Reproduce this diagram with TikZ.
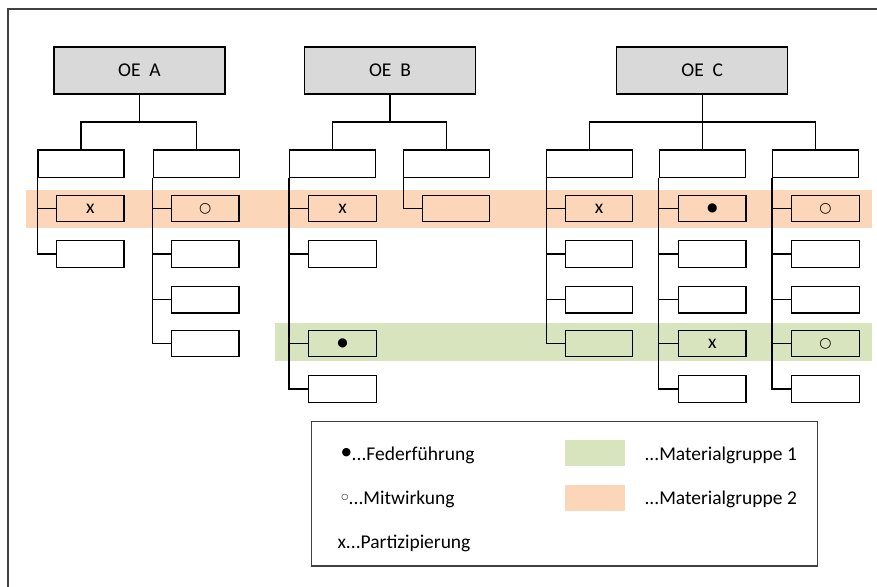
\documentclass[tikz,border=0pt]{standalone}
\usepackage{fontspec}
\setmainfont{Carlito}
\newfontfamily\symfont{DejaVu Sans}
\definecolor{framegray}{HTML}{404040}
\definecolor{headfill}{HTML}{D9D9D9}
\definecolor{bandorange}{HTML}{FBD6B8}
\definecolor{bandgreen}{HTML}{D7E4BD}
\newcommand{\fullbullet}[1]{{\symfont\fontsize{#1}{#1}\selectfont ●}}
\newcommand{\openbullet}[1]{{\symfont\fontsize{#1}{#1}\selectfont ○}}
\newcommand{\boxmark}[1]{\raisebox{-1.5pt}{#1}}
\begin{document}
\begin{tikzpicture}[x=1pt,y=-1pt,
  every node/.style={font=\fontsize{19.5}{23}\selectfont, inner sep=0pt},
  oebox/.style={draw=black, fill=headfill, line width=1.2pt, minimum width=171pt, minimum height=47pt},
  unitbox/.style={draw=black, line width=1.2pt, minimum width=86pt, minimum height=27.7pt},
  subbox/.style={draw=black, line width=1.2pt, minimum width=67.5pt, minimum height=26.5pt},
  wire/.style={draw=black, line width=1.2pt},
  swatch/.style={inner sep=0pt, outer sep=0pt, minimum width=59.7pt, minimum height=25.7pt}
]
\useasboundingbox (0,0) rectangle (877,586);
\clip (0,0) rectangle (877,586);
% outer frame (runs past the page on the right and bottom)
\draw[framegray, line width=1.5pt] (8,9) rectangle (900,620);

% colour bands of the two material groups
\fill[bandorange] (26,190) rectangle (872,227.7);
\fill[bandgreen] (275,323.3) rectangle (872,360.7);

% top organisational units
\node[oebox] (oeA) at (139.5,70.5) {OE\ \ A};
\node[oebox] (oeB) at (390,70.5) {OE\ \ B};
\node[oebox] (oeC) at (702.2,70.5) {OE\ \ C};

% second level
\node[unitbox] (a1) at (81,163.8) {};
\node[unitbox] (a2) at (196.2,163.8) {};
\node[unitbox] (b1) at (332.5,163.8) {};
\node[unitbox] (b2) at (446.8,163.8) {};
\node[unitbox] (c1) at (589.8,163.8) {};
\node[unitbox] (c2) at (702.2,163.8) {};
\node[unitbox] (c3) at (815.5,163.8) {};

% third level
\def\ra{208.5}\def\rb{254}\def\rc{299.7}\def\rd{343.5}\def\re{389}
\node[subbox] (a11) at (90.25,\ra) {\boxmark{x}};
\node[subbox] (a12) at (90.25,\rb) {};
\node[subbox] (a21) at (205.25,\ra) {\boxmark{\openbullet{14}}};
\node[subbox] (a22) at (205.25,\rb) {};
\node[subbox] (a23) at (205.25,\rc) {};
\node[subbox] (a24) at (205.25,\rd) {};
\node[subbox] (b11) at (342.5,\ra) {\boxmark{x}};
\node[subbox] (b12) at (342.5,\rb) {};
\node[subbox] (b14) at (342.5,\rd) {\boxmark{\fullbullet{12}}};
\node[subbox] (b15) at (342.5,\re) {};
\node[subbox] (b21) at (456,\ra) {};
\node[subbox] (c11) at (599,\ra) {\boxmark{x}};
\node[subbox] (c12) at (599,\rb) {};
\node[subbox] (c13) at (599,\rc) {};
\node[subbox] (c14) at (599,\rd) {};
\node[subbox] (c21) at (712.3,\ra) {\boxmark{\fullbullet{12}}};
\node[subbox] (c22) at (712.3,\rb) {};
\node[subbox] (c23) at (712.3,\rc) {};
\node[subbox] (c24) at (712.3,\rd) {\boxmark{x}};
\node[subbox] (c25) at (712.3,\re) {};
\node[subbox] (c31) at (825.5,\ra) {\boxmark{\openbullet{14}}};
\node[subbox] (c32) at (825.5,\rb) {};
\node[subbox] (c33) at (825.5,\rc) {};
\node[subbox] (c34) at (825.5,\rd) {\boxmark{\openbullet{14}}};
\node[subbox] (c35) at (825.5,\re) {};

% connectors from the top units to the second level
\coordinate (busA) at (139.5,122);
\coordinate (busB) at (390,122);
\coordinate (busC) at (702.2,122);
\draw[wire] (oeA.south) -- (busA);
\draw[wire] (a1.north) |- (busA) -| (a2.north);
\draw[wire] (oeB.south) -- (busB);
\draw[wire] (b1.north) |- (busB) -| (b2.north);
\draw[wire] (oeC.south) -- (c2.north);
\draw[wire] (c1.north) |- (busC) -| (c3.north);

% spines: down the left side of each unit to its last sub-unit
\foreach \p/\k in {a1/a12,a2/a24,b1/b15,b2/b21,c1/c14,c2/c25,c3/c35}
  \draw[wire] (\p.south west) |- (\k.west);
% branches off the spines to the other sub-units
\foreach \p/\k in {a1/a11,a2/a21,a2/a22,a2/a23,
                   b1/b11,b1/b12,b1/b14,
                   c1/c11,c1/c12,c1/c13,
                   c2/c21,c2/c22,c2/c23,c2/c24,
                   c3/c31,c3/c32,c3/c33,c3/c34}
  \draw[wire] (\p.south west |- \k.west) -- (\k.west);

% legend
\draw[framegray, line width=1.2pt] (311.7,421.7) rectangle (817.7,566);
\node (sfed) at (346.3,453) {\fullbullet{11}};
\node[anchor=base west] (lfed) at (351.5,460) {...Federführung};
\node (smit) at (344.8,497.7) {\openbullet{8}};
\node[anchor=base west] (lmit) at (348.5,504.3) {...Mitwirkung};
\node[anchor=base west] (lpar) at (337.3,548) {x...Partizipierung};
\node[swatch, fill=bandgreen] (sw1) at (595.2,452.8) {};
\node[swatch, fill=bandorange] (sw2) at (595.2,497.8) {};
\node[anchor=base west] (lmg1) at (644.3,460) {...Materialgruppe 1};
\node[anchor=base west] (lmg2) at (644.3,504.3) {...Materialgruppe 2};
\end{tikzpicture}
\end{document}
